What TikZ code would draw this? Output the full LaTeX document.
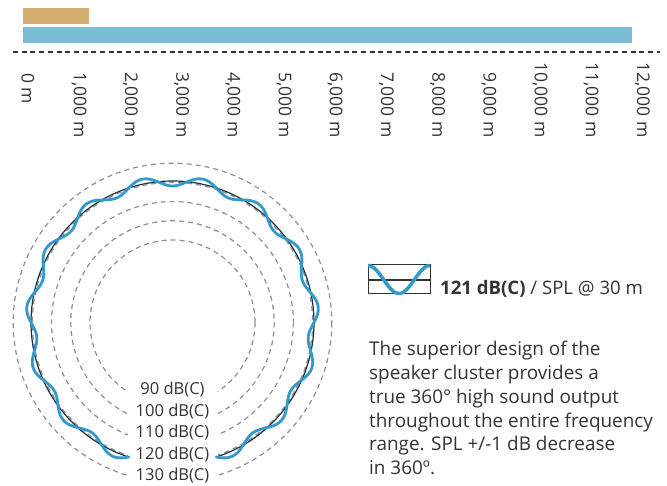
\documentclass[tikz,border=0pt]{standalone}
\usepackage{fontspec}
\setmainfont{Open Sans}
\usepackage{color}
\definecolor{barGold}{HTML}{D4AE6E}
\definecolor{barBlue}{HTML}{7BBCD5}
\definecolor{waveBlue}{HTML}{3399CC}
\definecolor{ringDark}{HTML}{1C2F3E}
\definecolor{ringGray}{HTML}{8B8E9E}
\definecolor{textGray}{HTML}{333333}

\begin{document}
\begin{tikzpicture}[x=1pt, y=-1pt,
    ring/.style={ringGray, line width=1.2pt, dash pattern=on 5pt off 4pt},
    wave/.style={waveBlue, line width=2.8pt, line cap=round},
    distLabel/.style={rotate=-90, inner sep=0pt, text=textGray, font=\fontsize{17.5}{21}\selectfont},
    dbLabel/.style={fill=white, inner sep=0pt, minimum width=90pt, minimum height=21.5pt, text=textGray, font=\fontsize{16.5}{20}\selectfont},
    bodyText/.style={inner sep=0pt, text=textGray, font=\fontsize{18.9}{23.7}\selectfont}]
\useasboundingbox (0,0) rectangle (667,486);
% Draw range bars
\fill[barGold] (23,8) rectangle (89,24);
\fill[barBlue] (23,27) rectangle (632,43);
% Draw scale line
\draw[textGray, line width=1.3pt, dash pattern=on 5pt off 3.7pt] (13,52) -- (660,52);
% Draw distance labels
\node[distLabel, anchor=west] (dist0) at (28,73) {0 m};
\foreach \k in {1,...,12}
    \node[distLabel, anchor=east] (dist\k) at (28+51.2*\k,138) {\k,000 m};
% Draw level rings
\coordinate (ctr) at (172.5,322.5);
\foreach \r in {82.5,101.7,120.9,140.1,159.3}
    \draw[ring] (ctr) circle[radius=\r];
% Draw ring labels
\foreach \db [count=\i from 0] in {90,100,110,120,130}
    \node[dbLabel] (db\db) at (172.5,390+21.5*\i) {\db\ dB(C)};
% Draw measured level
\draw[ringDark, line width=1.2pt] plot[domain=-72:252, samples=200]
    ({172.5+141.5*cos(\x)}, {322.5-141.5*sin(\x)});
\draw[wave] plot[domain=-72:252, samples=500, smooth]
    ({172.5+(141.5-5*cos(15*(\x-90)))*cos(\x)}, {322.5-(141.5-5*cos(15*(\x-90)))*sin(\x)});
% Draw legend icon
\draw[textGray, line width=1pt] (368,265) rectangle (430,294);
\draw[textGray, line width=1.3pt] (368,280) -- (430,280);
\draw[wave, line width=3.5pt, line cap=butt] plot[domain=0:360, samples=60, smooth]
    ({368+0.17222*\x}, {279.5-14*cos(\x)});
\node[bodyText, anchor=base west, font=\fontsize{18.6}{22}\selectfont] (spl) at (440,295)
    {\textbf{121 dB(C)} / SPL @ 30 m};
% Draw description
\foreach \line [count=\i] in {The superior design of the, speaker cluster provides a,
    true 360° high sound output, throughout the entire frequency,
    range. SPL +/-1 dB decrease, in 360º.}
    \node[bodyText, anchor=base west] (body\i) at (369,356+23.7*\i-23.7) {\line};
\end{tikzpicture}
\end{document}
